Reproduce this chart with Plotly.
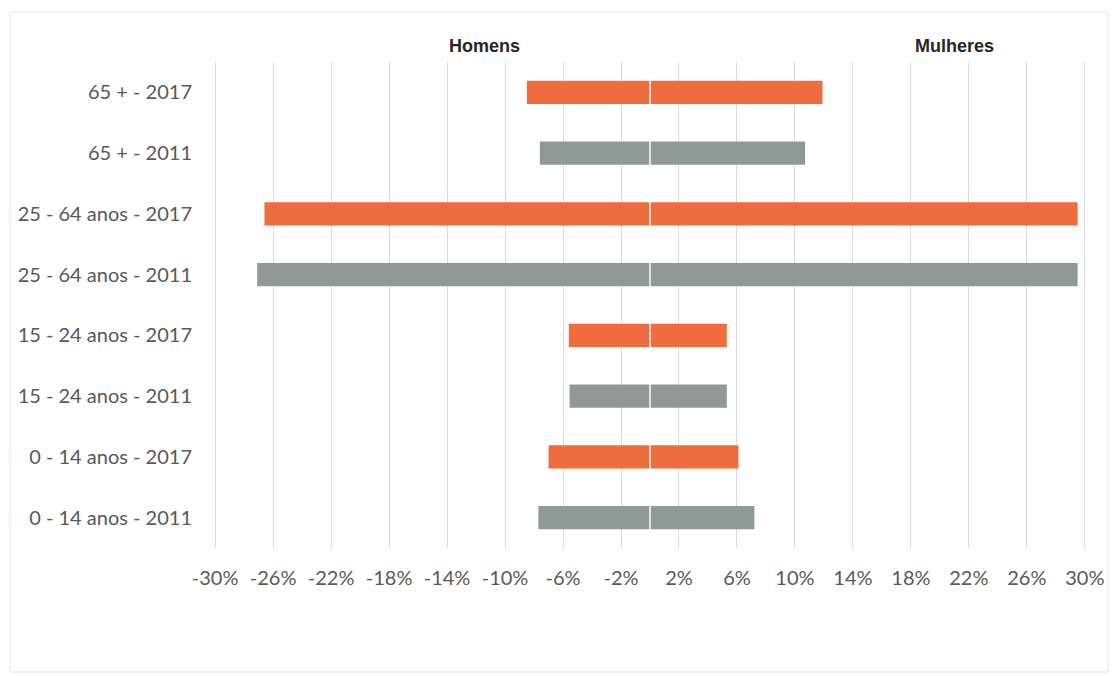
import plotly.graph_objects as go

# Age groups by census year, bottom to top
categorias = [
    "0 - 14 anos - 2011",
    "0 - 14 anos - 2017",
    "15 - 24 anos - 2011",
    "15 - 24 anos - 2017",
    "25 - 64 anos - 2011",
    "25 - 64 anos - 2017",
    "65 + - 2011",
    "65 + - 2017",
]
anos = [2011, 2017, 2011, 2017, 2011, 2017, 2011, 2017]

# Share of population (%); men drawn to the left as negatives
homens = [-7.7, -7.0, -5.55, -5.6, -27.1, -26.6, -7.6, -8.5]
mulheres = [7.2, 6.1, 5.3, 5.3, 29.5, 29.5, 10.7, 11.9]

tick_vals = [-30, -26, -22, -18, -14, -10, -6, -2, 2, 6, 10, 14, 18, 22, 26, 30]
tick_text = [f"{v}%" for v in tick_vals]

cor_ano = {2011: "#8F9995", 2017: "#EF6C3E"}
cores = [cor_ano[a] for a in anos]

fig = go.Figure()
for nome, valores in (("Homens", homens), ("Mulheres", mulheres)):
    fig.add_trace(go.Bar(
        y=categorias, x=valores, orientation="h", name=nome,
        marker=dict(color=cores, line=dict(width=0)),
        showlegend=False,
    ))

W, H = 1112, 676
ml, mr, mt, mb = 214, 26, 62, 128

fig.update_layout(
    width=W, height=H,
    margin=dict(l=ml, r=mr, t=mt, b=mb, pad=0),
    barmode="relative", bargap=0.62,
    paper_bgcolor="white", plot_bgcolor="white",
    font=dict(family="Lato, 'Open Sans', sans-serif", color="#595959", size=20),
    xaxis=dict(
        range=[-30.08, 30.08], tickvals=tick_vals, ticktext=tick_text,
        showgrid=True, gridcolor="#D8DBE5", gridwidth=1,
        zeroline=False, showline=False, ticks="", ticklabelstandoff=16,
        automargin=False, fixedrange=True,
    ),
    yaxis=dict(
        categoryorder="array", categoryarray=categorias,
        showgrid=False, zeroline=False, showline=False, ticks="",
        ticklabelstandoff=21, automargin=False, fixedrange=True,
    ),
)

# Thin white divider at 0 between the men's and women's halves
fig.add_shape(type="line", xref="x", yref="paper", x0=0, x1=0, y0=0, y1=1,
              line=dict(color="white", width=1.5), layer="above")

# Outer frame of the chart area
pw, ph = W - ml - mr, H - mt - mb
def px_to_paper_x(px):
    return (px - ml) / pw
def px_to_paper_y(py):
    return (H - mb - py) / ph

fig.add_shape(type="rect", xref="paper", yref="paper",
              x0=px_to_paper_x(10), x1=px_to_paper_x(1108),
              y0=px_to_paper_y(672), y1=px_to_paper_y(12),
              line=dict(color="#E3E3E3", width=1), layer="below")

# Side headers
for texto, xv in (("Homens", -11.4), ("Mulheres", 21.0)):
    fig.add_annotation(
        x=xv, xref="x", y=px_to_paper_y(46), yref="paper",
        text=f"<b>{texto}</b>", showarrow=False,
        font=dict(family="'Liberation Sans', Arial, sans-serif",
                  size=18, color="#262626"),
        xanchor="center", yanchor="middle",
    )

fig.write_html("out.html")
